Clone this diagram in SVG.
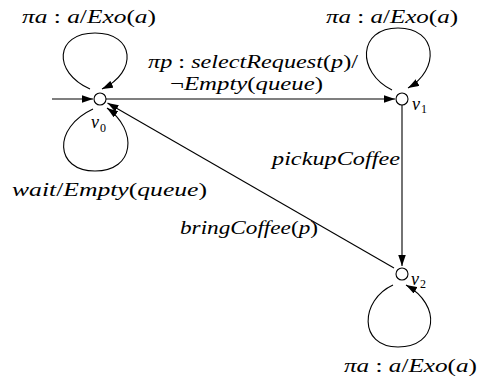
<svg xmlns="http://www.w3.org/2000/svg" width="483" height="385" viewBox="0 0 483 385">
<defs>
<marker id="ah" markerWidth="12" markerHeight="8" refX="11" refY="3.75" orient="auto" markerUnits="userSpaceOnUse">
<path d="M0,0 L11,3.75 L0,7.5 z" fill="#000"/>
</marker>
<style>
.edge{fill:none;stroke:#000;stroke-width:1.1}
.node{fill:#fff;stroke:#000;stroke-width:1.1}
.lbl{font-family:"Liberation Serif","Times New Roman",serif;font-style:italic;font-size:18px;fill:#000}
.up{font-style:normal}
.sub{font-family:"Liberation Serif","Times New Roman",serif;font-size:12px;fill:#000}
</style>
</defs>
<rect width="483" height="385" fill="#fff"/>
<g id="connectors">
<line class="edge" x1="52" y1="99" x2="93" y2="99" marker-end="url(#ah)"/>
<path class="edge" d="M90,89 C52,72 55,33 95,33 C135,33 138,72 102,89" marker-end="url(#ah)"/>
<path class="edge" d="M93,109 C52,128 55,171 95,171 C135,171 138,130 107,108" marker-end="url(#ah)"/>
<line class="edge" x1="106" y1="99" x2="395" y2="99" marker-end="url(#ah)"/>
<path class="edge" d="M392,90 C356,72 358,28 398,28 C438,28 440,70 408,88" marker-end="url(#ah)"/>
<line class="edge" x1="402" y1="105" x2="402" y2="266" marker-end="url(#ah)"/>
<line class="edge" x1="394" y1="268" x2="107.5" y2="103" marker-end="url(#ah)"/>
<path class="edge" d="M393,285 C360,300 358,347 398,347 C438,347 442,305 406,285" marker-end="url(#ah)"/>
</g>
<g id="v0">
<circle class="node" cx="100" cy="99" r="6"/>
<text class="lbl" x="91" y="128">v</text><text class="sub" x="100" y="132">0</text>
</g>
<g id="v1">
<circle class="node" cx="402" cy="99" r="6"/>
<text class="lbl" x="412" y="110">v</text><text class="sub" x="421" y="113">1</text>
</g>
<g id="v2">
<circle class="node" cx="402" cy="274" r="6"/>
<text class="lbl" x="411" y="285">v</text><text class="sub" x="420" y="288">2</text>
</g>
<g id="labels">
<text class="lbl" x="22" y="23" textLength="134" lengthAdjust="spacingAndGlyphs">πa <tspan class="up">:</tspan> a<tspan class="up">/</tspan>Exo<tspan class="up">(</tspan>a<tspan class="up">)</tspan></text>
<text class="lbl" x="326" y="23" textLength="132" lengthAdjust="spacingAndGlyphs">πa <tspan class="up">:</tspan> a<tspan class="up">/</tspan>Exo<tspan class="up">(</tspan>a<tspan class="up">)</tspan></text>
<text class="lbl" x="148" y="68" textLength="210" lengthAdjust="spacingAndGlyphs">πp <tspan class="up">:</tspan> selectRequest<tspan class="up">(</tspan>p<tspan class="up">)/</tspan></text>
<text class="lbl" x="170" y="89.5" textLength="153" lengthAdjust="spacingAndGlyphs"><tspan class="up">¬</tspan>Empty<tspan class="up">(</tspan>queue<tspan class="up">)</tspan></text>
<text class="lbl" x="12" y="196" textLength="195" lengthAdjust="spacingAndGlyphs">wait<tspan class="up">/</tspan>Empty<tspan class="up">(</tspan>queue<tspan class="up">)</tspan></text>
<text class="lbl" x="272" y="165" textLength="128" lengthAdjust="spacingAndGlyphs">pickupCoffee</text>
<text class="lbl" x="180" y="234" textLength="138" lengthAdjust="spacingAndGlyphs">bringCoffee<tspan class="up">(</tspan>p<tspan class="up">)</tspan></text>
<text class="lbl" x="344" y="372" textLength="133" lengthAdjust="spacingAndGlyphs">πa <tspan class="up">:</tspan> a<tspan class="up">/</tspan>Exo<tspan class="up">(</tspan>a<tspan class="up">)</tspan></text>
</g>
</svg>
